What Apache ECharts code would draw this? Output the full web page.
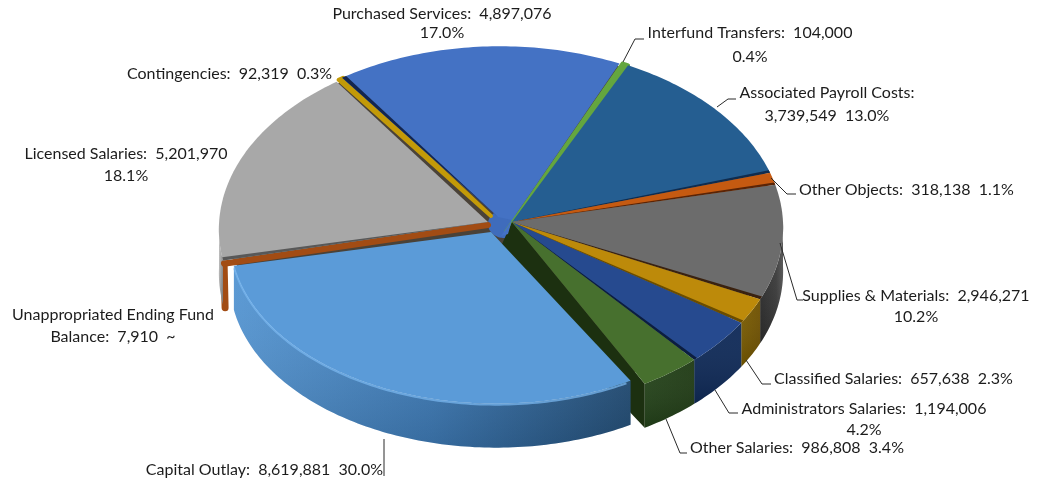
<!DOCTYPE html>
<html><head><meta charset="utf-8">
<style>html,body{margin:0;padding:0;background:#fff}#c{width:1040px;height:482px}</style>
<script src="https://cdn.jsdelivr.net/npm/echarts@6/dist/echarts.min.js"></script>
</head><body><div id="c"></div>
<script>
// ---- data, clockwise from the Interfund Transfers slice ----
var categories = ['Interfund Transfers','Associated Payroll Costs','Other Objects','Supplies & Materials','Classified Salaries','Administrators Salaries','Other Salaries','Capital Outlay','Unappropriated Ending Fund Balance','Licensed Salaries','Contingencies','Purchased Services'];
var values = [104000,3739549,318138,2946271,657638,1194006,986808,8619881,7910,5201970,92319,4897076];
var percentLabels = ['0.4%','13.0%','1.1%','10.2%','2.3%','4.2%','3.4%','30.0%','~','18.1%','0.3%','17.0%'];

// ---- styling and layout (not data) ----
var topColors  = ['#64a63f','#255e91','#c55a11','#6c6c6c','#bd8a0a','#264a8f','#47702e','#5b9bd8','#a24c14','#a8a8a8','#c39a08','#4472c4'];
var wallDark   = ['#3c6a26','#173a5c','#7a380a','#2e2e2e','#6e5000','#0f2a58','#1f3a14','#244f78','#8f4312','#8a8a8a','#7a6000','#2a477c'];
var wallLight  = ['#4a8030','#1e4a75','#9a470d','#5a5a5a','#7a5c00','#0f2a58','#24431a','#5596d3','#a24c14','#c4c4c4','#9a7800','#34599a'];
var stripColors= ['#3f6f28','#102c4e','#5a2406','#3a2210','#6a4c00','#0c1e40','#1c3010','#5b9bd8','#a24c14','#585858','#7a6000','#14264e'];
var stripDeg   = [0,0.9,0.8,1.0,0.8,0.8,0,0,0,1.0,0,1.0];
var stripAtEnd = [1,1,1,1,1,1,1,0,0,0,0,0];
// per-slice shift x, shift y, radius scale x, radius scale y
var lift = [[0,0,1,1],[0,0,1,1],[0,0,1,1],[0,0,1,1],[0,0,1,1],[0,0,1,1],[0,0,1,1],[-7,10,0.95,0.92],[-3,5,1,1],[-4,2,1,1],[-2,0,1,1],[-3,0,1,1]];
// where each wedge's point sits, relative to the pie centre
var apexOffset = [[3,10],[9,0],[9,0],[9,0],[9,0],[9,0],[9,0],[-12,10],[-15,3],[-15,0],[-12,-6],[-5,-5]];
var purchasedNotch = [[-2,14],[5,12],[9,-2]];
var labelLayout = [ // first-line centre x,y, align, line height, joiner, leader points
 {x:750,y:33,a:'center',lh:24,wrap:'\n',line:[[623,62],[635,39],[644,39]]},
 {x:827,y:93,a:'center',lh:23,wrap:'\n',split:true,line:[[717,107],[728,99],[736,99]]},
 {x:799,y:190,a:'left',lh:20,wrap:'  ',line:[[771,178],[787,194],[796,194]]},
 {x:916,y:296,a:'center',lh:21,wrap:'\n',line:[[780,243],[797,300],[803,300]]},
 {x:774,y:379,a:'left',lh:20,wrap:'  ',line:[[746,360],[762,384],[771,384]]},
 {x:864,y:409,a:'center',lh:21,wrap:'\n',line:[[715,390],[729,413],[738,413]]},
 {x:690,y:448,a:'left',lh:20,wrap:'  ',line:[[666,419],[680,453],[687,453]]},
 {x:383,y:470,a:'right',lh:20,wrap:'  ',line:[[384,439],[384,476]]},
 {x:113,y:315,a:'center',lh:22,wrap:'unap',line:[]},
 {x:126,y:154,a:'center',lh:22,wrap:'\n',line:[]},
 {x:127,y:74,a:'left',lh:20,wrap:'  ',line:[]},
 {x:442,y:14,a:'center',lh:19,wrap:'\n',line:[]}
];
var CX=503, CY=222, RX=280, RY=181, PERSP=0.03, DEPTH=44, START=26;
var FONT='16px Lato, "Open Sans", sans-serif';

var total = values.reduce(function(a,b){return a+b;},0);
var starts=[], acc=START;
values.forEach(function(v){starts.push(acc); acc+=v/total*360;});
var rows = values.map(function(v,i){return [i,v,starts[i],v/total*360];});

function pt(deg,i,extraY){
  var l=lift[i], t=deg*Math.PI/180, s=Math.sin(t), c=Math.cos(t), w=1+PERSP*c;
  return [CX+l[0]+RX*s*l[2]/w, CY+l[1]-RY*c*l[3]/w+(extraY||0)];
}
function arc(a,b,i,y){var o=[],n=Math.max(2,Math.ceil(Math.abs(b-a)));for(var k=0;k<=n;k++)o.push(pt(a+(b-a)*k/n,i,y));return o;}
function apexOf(i){return [CX+apexOffset[i][0], CY+apexOffset[i][1]];}

function renderUnder(p,api){
  // dark seam colour showing through the narrow gaps between the wedges, with a blue hub at the centre
  var disc=[], hub=[];
  for(var d=0;d<360;d+=4){
    var t=d*Math.PI/180, s=Math.sin(t), c=Math.cos(t);
    disc.push([CX-2+RX*0.975*s, CY+RY*0.955*-c]);
    hub.push([CX+1+16*s, CY+2+14*-c]);
  }
  return {type:'group',children:[
    {type:'polygon',shape:{points:disc},style:{fill:'#4a4238'}},
    {type:'polygon',shape:{points:hub},style:{fill:'#3f6cbc'}}
  ]};
}
function wallKids(i,a,sweep){
  var kids=[], b=a+sweep, lo=Math.max(a,90), hi=Math.min(b,270);
  if(sweep<0.5){
    var q=pt(a,i);
    kids.push({type:'line',shape:{x1:q[0],y1:q[1],x2:q[0]+1,y2:q[1]+DEPTH},style:{stroke:topColors[i],lineWidth:7,lineCap:'round'}});
  } else if(hi>lo){
    var poly=arc(lo,hi,i,0).concat(arc(hi,lo,i,DEPTH));
    var grad;
    if(i===7) grad=[{offset:0,color:wallLight[i]},{offset:0.5,color:'#3f7cb8'},{offset:1,color:wallDark[i]}];
    else if(i===3) grad=[{offset:0,color:'#2e2e2e'},{offset:0.7,color:'#3c3c3c'},{offset:1,color:'#555555'}];
    else grad=[{offset:0,color:wallLight[i]},{offset:1,color:wallDark[i]}];
    kids.push({type:'polygon',shape:{points:poly},style:{fill:new echarts.graphic.LinearGradient(0,0,1,0,grad)}});
    kids.push({type:'polygon',shape:{points:poly},style:{fill:new echarts.graphic.LinearGradient(0,0,0,1,[{offset:0,color:'rgba(255,255,255,0.04)'},{offset:1,color:'rgba(0,0,0,0.14)'}])}});
  }
  return kids;
}
function renderWall(p,api){
  var i=api.value(0);
  // Capital Outlay's rim is drawn with its top so it stays in front of the cut face behind it
  return {type:'group',children:i===7?[]:wallKids(i,api.value(2),api.value(3))};
}
function renderTop(p,api){
  var i=api.value(0), a=api.value(2), sweep=api.value(3), b=a+sweep, kids=[];
  var apex=apexOf(i);
  if(i===6){ // cut face revealed by the pulled-out Capital Outlay slice
    var e0=pt(b,i);
    kids.push({type:'polygon',shape:{points:[apex,e0,[e0[0],e0[1]+DEPTH],[apex[0]-20,apex[1]+DEPTH]]},style:{fill:'#1c3010'}});
  }
  if(i===7) kids=kids.concat(wallKids(i,a,sweep));
  var poly=[apex].concat(arc(a,b,i,0));
  if(i===11) purchasedNotch.forEach(function(o){poly.push([CX+o[0],CY+o[1]]);});
  var thin=sweep<1.6;
  kids.push({type:'polygon',shape:{points:poly},style:{fill:topColors[i],stroke:thin?topColors[i]:null,lineWidth:thin?(sweep<0.5?6:4):0,lineJoin:'round'}});
  if(stripDeg[i]>0){
    var e=stripAtEnd[i]?b:a, f=stripAtEnd[i]?b-stripDeg[i]:a+stripDeg[i];
    kids.push({type:'polygon',shape:{points:[apex,pt(e,i),pt(f,i)]},style:{fill:stripColors[i]}});
  }
  if(i===7){
    kids.push({type:'polyline',shape:{points:arc(a+1,b-0.5,i,1)},style:{stroke:'#78b6ee',lineWidth:2,fill:null,opacity:0.75}});
  }
  return {type:'group',children:kids};
}
function labelText(i){
  var v=values[i].toLocaleString('en-US'), n=categories[i], per=percentLabels[i], w=labelLayout[i].wrap;
  if(w==='unap') return 'Unappropriated Ending Fund\nBalance:  '+v+'  '+per;
  if(labelLayout[i].split) return n+':\n'+v+'  '+per;
  return n+':  '+v+w+per;
}
function renderLabel(p,api){
  var i=api.value(0), L=labelLayout[i], kids=[];
  if(L.line.length) kids.push({type:'polyline',shape:{points:L.line},style:{stroke:'#2a2a2a',lineWidth:1,fill:null}});
  kids.push({type:'text',style:{x:L.x,y:L.y-L.lh/2,text:labelText(i),align:L.a,verticalAlign:'top',font:FONT,fill:'#1c1c1c',lineHeight:L.lh}});
  return {type:'group',children:kids};
}
var chart=echarts.init(document.getElementById('c'),null,{renderer:'canvas'});
var dims=['index','value','start','sweep'];
chart.setOption({
  animation:false,
  backgroundColor:'#fff',
  series:[
   {type:'custom',name:'walls',coordinateSystem:'none',z:1,data:rows,dimensions:dims,renderItem:renderWall,silent:true},
   {type:'custom',name:'seams',coordinateSystem:'none',z:2,data:[[0]],renderItem:renderUnder,silent:true},
   {type:'custom',name:'tops',coordinateSystem:'none',z:3,data:rows,dimensions:dims,renderItem:renderTop,silent:true},
   {type:'custom',name:'labels',coordinateSystem:'none',z:4,data:rows,dimensions:dims,renderItem:renderLabel,silent:true}
  ]
});
</script></body></html>
